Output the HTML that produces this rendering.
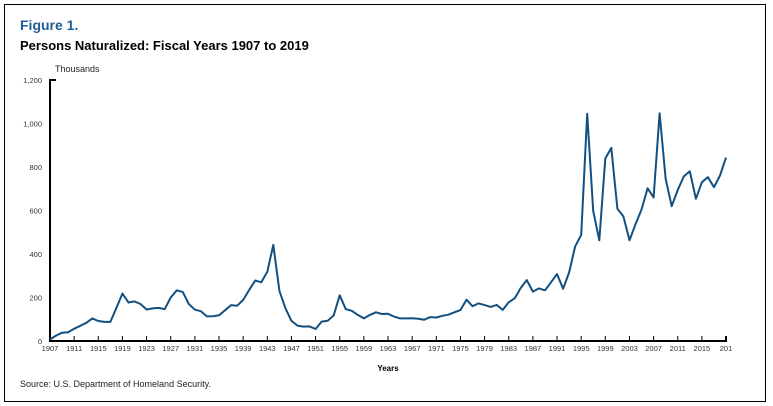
<!DOCTYPE html>
<html><head><meta charset="utf-8"><style>
html,body{margin:0;padding:0;background:#fff;}
body{width:773px;height:406px;position:relative;overflow:hidden;font-family:"Liberation Sans",Arial,sans-serif;}
.frame{position:absolute;left:4px;top:4px;width:760px;height:396px;border:1.5px solid #000;}
</style></head><body>
<div class="frame"></div>
<svg width="773" height="406" style="position:absolute;left:0;top:0" font-family="Liberation Sans, Arial, sans-serif">
<text x="20" y="30" font-size="14" font-weight="bold" fill="#1f5c99">Figure 1.</text>
<text x="20" y="50" font-size="13" font-weight="bold" fill="#000">Persons Naturalized: Fiscal Years 1907 to 2019</text>
<text x="55" y="72" font-size="9" fill="#222">Thousands</text>
<g id="y" font-size="7.5" fill="#333" text-anchor="end"></g>
<g id="x" font-size="7.5" fill="#333" text-anchor="middle"></g>
<path d="M56 80 H50 V341 H726 V336" fill="none" stroke="#000" stroke-width="2"/>
<g id="t" stroke="#000" stroke-width="1"></g>
<polyline id="p" fill="none" stroke="#14507f" stroke-width="2" stroke-linejoin="round"/>
<text x="388" y="371" font-size="8" font-weight="bold" text-anchor="middle">Years</text>
<text x="20" y="387" font-size="9" fill="#222">Source: U.S. Department of Homeland Security.</text>
</svg>
<script>
var d=[7,25,38,40,56,70,83,104,92,88,88,152,218,177,182,170,145,150,152,146,200,233,225,170,144,137,113,114,118,141,165,162,189,235,278,270,318,442,231,151,93,71,66,67,55,89,93,118,210,146,139,120,104,120,132,124,125,112,104,104,105,102,98,110,108,116,121,132,142,190,160,173,165,157,166,143,178,197,244,280,227,242,233,270,308,240,315,434,488,1045,598,463,839,888,608,573,463,537,604,702,660,1047,744,620,694,757,780,654,730,753,707,761,843];
function X(i){return 50+i*6.036;}function Y(v){return 341-v*0.2175;}
document.getElementById('p').setAttribute('points',d.map(function(v,i){return X(i).toFixed(1)+','+Y(v).toFixed(1)}).join(' '));
var s='',ns='http://www.w3.org/2000/svg';
var yg=document.getElementById('y'),xg=document.getElementById('x'),tg=document.getElementById('t');
for(var v=0;v<=1200;v+=200){var t=document.createElementNS(ns,'text');t.setAttribute('x',42);t.setAttribute('y',Y(v)+3);t.textContent=v>=1000?(Math.floor(v/1000)+','+String(v%1000).padStart(3,'0')):v;yg.appendChild(t);}
for(var yr=1907;yr<=2019;yr+=4){var x=X(yr-1907);var t=document.createElementNS(ns,'text');t.setAttribute('x',x);t.setAttribute('y',351);t.textContent=yr==2019?'201':yr;xg.appendChild(t);
var l=document.createElementNS(ns,'line');l.setAttribute('x1',x);l.setAttribute('x2',x);l.setAttribute('y1',336);l.setAttribute('y2',341);tg.appendChild(l);}
</script>
</body></html>
